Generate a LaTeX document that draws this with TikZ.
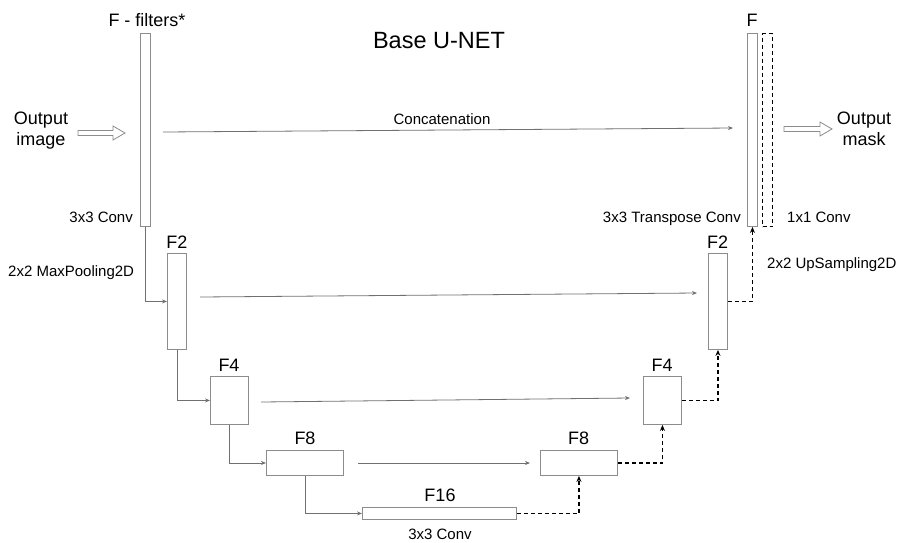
\documentclass[tikz,border=0pt]{standalone}
\usepackage{fontspec}
\setmainfont{Liberation Sans}
\usetikzlibrary{arrows.meta}
\definecolor{boxgray}{HTML}{8C8C8C}
\definecolor{linegray}{HTML}{707070}
\begin{document}
\begin{tikzpicture}[x=1pt,y=-1pt,
  blk/.style={draw=boxgray, line width=0.9pt, fill=white, inner sep=0pt, anchor=north west},
  dblk/.style={draw=black, dash pattern=on 4pt off 3pt, line width=1.1pt, inner sep=0pt, anchor=north west},
  conn/.style={draw=linegray, line width=0.8pt, -{Stealth[length=5pt,width=4pt]}},
  upc/.style={draw=black, dash pattern=on 4pt off 3pt, line width=1.1pt, -{Stealth[length=6pt,width=5pt]}},
  hol/.style={draw=boxgray, line width=0.8pt, fill=white},
  small/.style={font=\fontsize{15}{17}\selectfont, inner sep=0pt},
  lbl/.style={font=\fontsize{18}{21}\selectfont, inner sep=0pt},
]
\useasboundingbox (0,0) rectangle (897,542);

% encoder boxes
\node[blk, minimum width=10pt, minimum height=193pt] (e1) at (140,33) {};
\node[blk, minimum width=19pt, minimum height=96pt] (e2) at (167,253) {};
\node[blk, minimum width=38pt, minimum height=48pt] (e3) at (210,376) {};
\node[blk, minimum width=77pt, minimum height=25pt] (e4) at (266,450) {};
\node[blk, minimum width=154pt, minimum height=12pt] (b) at (362,507) {};
% decoder boxes
\node[blk, minimum width=77pt, minimum height=25pt] (d4) at (540,450) {};
\node[blk, minimum width=38pt, minimum height=48pt] (d3) at (643,376) {};
\node[blk, minimum width=19pt, minimum height=96pt] (d2) at (708,253) {};
\node[blk, minimum width=10pt, minimum height=193pt] (d1) at (747,33) {};
\node[dblk, minimum width=10pt, minimum height=193pt] (c1) at (762,33) {};

% down path
\draw[conn] (e1.south) |- (e2.west);
\draw[conn] (e2.south) |- (e3.west);
\draw[conn] (e3.south) |- (e4.west);
\draw[conn] (e4.south) |- (b.west);

% up path
\draw[upc] (b.east) -| (d4.south);
\draw[upc] (d4.east) -| (d3.south);
\draw[upc] (d3.east) -| (d2.south);
\draw[upc] (d2.east) -| (d1.south);

% concatenations
\coordinate (s1) at (163,132); \coordinate (t1) at (733,128);
\coordinate (s2) at (200,297); \coordinate (t2) at (697,293);
\coordinate (s3) at (261,402); \coordinate (t3) at (630,398);
\coordinate (s4) at (358,463); \coordinate (t4) at (530,463);
\draw[conn] (s1) -- (t1);
\draw[conn] (s2) -- (t2);
\draw[conn] (s3) -- (t3);
\draw[conn] (s4) -- (t4);

% hollow arrows
\draw[hol] (78,130.5) -- (113,130.5) -- (113,126) -- (125,133) -- (113,140) -- (113,135.5) -- (78,135.5) -- cycle;
\draw[hol] (784,126.5) -- (820,126.5) -- (820,122) -- (832,129) -- (820,136) -- (820,131.5) -- (784,131.5) -- cycle;

% texts
\node[font=\fontsize{23.5}{26}\selectfont, inner sep=0pt, anchor=base] (title) at (439,48) {Base U-NET};
\node[lbl, anchor=base] (tf) at (147,26) {F - filters*};
\node[lbl, anchor=base, align=center] (tin) at (41,145) {Output\\image};
\node[lbl, anchor=base, align=center] (tout) at (864,145) {Output\\mask};
\node[small, anchor=base] (tcat) at (442,124) {Concatenation};
\node[small, anchor=base east] (tc1) at (133,222) {3x3 Conv};
\node[small, anchor=base west] (tmp) at (8,276) {2x2 MaxPooling2D};
\node[small, anchor=base] (tc2) at (440,539) {3x3 Conv};
\node[small, anchor=base east] (ttc) at (741,222) {3x3 Transpose Conv};
\node[small, anchor=base west] (t11) at (787,222) {1x1 Conv};
\node[small, anchor=base west] (tus) at (767,268) {2x2 UpSampling2D};

\node[lbl, anchor=base] (le2) at (177,248) {F2};
\node[lbl, anchor=base] (le3) at (229,371) {F4};
\node[lbl, anchor=base] (le4) at (305,444) {F8};
\node[lbl, anchor=base] (lb) at (440,501) {F16};
\node[lbl, anchor=base] (ld4) at (578.5,444) {F8};
\node[lbl, anchor=base] (ld3) at (662,371) {F4};
\node[lbl, anchor=base] (ld2) at (717.5,248) {F2};
\node[lbl, anchor=base] (ld1) at (752,26) {F};
\end{tikzpicture}
\end{document}
